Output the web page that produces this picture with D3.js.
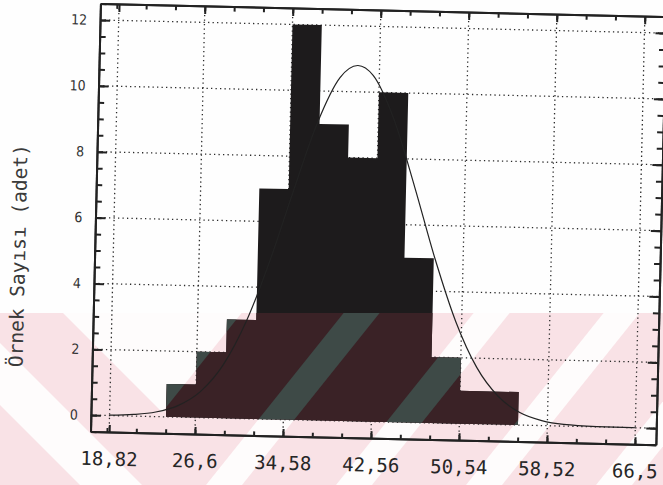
<!DOCTYPE html>
<html>
<head>
<meta charset="utf-8">
<script src="https://cdn.jsdelivr.net/npm/d3@7"></script>
<style>
body { margin: 0; background: #fff; }
svg { display: block; }
</style>
</head>
<body>
<script>
const w = 663
const h = 485

// histogram classes (lower edge) and sample counts
const binStart = [23.94, 26.6, 29.26, 31.92, 34.58, 37.24, 39.9, 42.56, 45.22, 47.88, 50.54, 53.2]
const counts = [1, 2, 3, 7, 12, 9, 8, 10, 5, 2, 1, 1]
const binWidth = 2.66

// normal curve drawn over the histogram
const curveX = [18.82, 21, 23, 25, 27, 29, 31, 33, 35, 37, 39, 40.6, 42, 44, 46, 48, 50, 52, 54, 56, 58, 60, 63, 66.5]
const curveY = [0.01, 0.05, 0.14, 0.35, 0.79, 1.61, 2.94, 4.78, 6.93, 8.99, 10.42, 10.8, 10.51, 9.17, 7.15, 4.98, 3.1, 1.72, 0.86, 0.38, 0.15, 0.05, 0.01, 0]

const xTicks = [18.82, 26.6, 34.58, 42.56, 50.54, 58.52, 66.5]
const xTickLabels = ['18,82', '26,6', '34,58', '42,56', '50,54', '58,52', '66,5']
const yTicks = [0, 2, 4, 6, 8, 10, 12]
const yTitle = 'Örnek Sayısı (adet)'

// the scanned page is a little tilted
const tilt = 'rotate(1.33,378,220)'

const x = d3.scaleLinear().domain([17.13, 68.4]).range([95.5, 661])
const y = d3.scaleLinear().domain([-0.5, 12.5]).range([438.2, 10])

const svg = d3.select('body').append('svg')
    .attr('width', w)
    .attr('height', h)

svg.append('rect').attr('width', w).attr('height', h).attr('fill', '#fefefe')

// pink watermark band at the bottom of the page
const wmTop = 313
const stripe = function (c, hw) {
    return [[c - hw - 0.8 * wmTop, wmTop], [c + hw - 0.8 * wmTop, wmTop], [c + hw - 0.8 * h, h], [c - hw - 0.8 * h, h]]
}
const lightShapes = [
    [[0, 343], [142, 485], [80, 485], [0, 405]],
    [[63, wmTop], [241.6, wmTop], [162.2, 412.2]],
    stripe(612, 18), stripe(742, 18), stripe(872, 18), stripe(1002, 18)
]

const wm = svg.append('g')
wm.append('rect').attr('x', 0).attr('y', wmTop).attr('width', w).attr('height', h - wmTop).attr('fill', '#f9e2e6')
wm.selectAll('polygon').data(lightShapes).enter().append('polygon')
    .attr('points', function (d) { return d.join(' ') })
    .attr('fill', '#fefcfc')

// histogram outline as one stepped shape
const last = binStart.length - 1
const steps = binStart.map(function (b, i) { return [b, counts[i]] })
    .concat([[binStart[last] + binWidth, counts[last]]])

const area = d3.area()
    .x(function (d) { return x(d[0]) })
    .y0(y(0))
    .y1(function (d) { return y(d[1]) })
    .curve(d3.curveStepAfter)

const chart = svg.append('g').attr('transform', tilt)

// dotted grid
chart.selectAll('line.vgrid').data(xTicks).enter().append('line')
    .attr('class', 'vgrid')
    .attr('x1', function (d) { return x(d) }).attr('x2', function (d) { return x(d) })
    .attr('y1', y.range()[1]).attr('y2', y.range()[0])
chart.selectAll('line.hgrid').data(yTicks).enter().append('line')
    .attr('class', 'hgrid')
    .attr('x1', x.range()[0]).attr('x2', x.range()[1])
    .attr('y1', function (d) { return y(d) }).attr('y2', function (d) { return y(d) })
chart.selectAll('line.vgrid, line.hgrid')
    .attr('stroke', '#2a2a2a')
    .attr('stroke-width', 1.3)
    .attr('stroke-dasharray', '1.3,3.2')

// bars
chart.append('path')
    .datum(steps)
    .attr('d', area)
    .attr('fill', '#1d1b1c')

// watermark seen through the bars
const clip = svg.append('defs').append('clipPath').attr('id', 'barClip')
clip.append('path')
    .datum(steps)
    .attr('d', area)
    .attr('transform', tilt)

const over = svg.append('g').attr('clip-path', 'url(#barClip)')
over.append('rect').attr('x', 0).attr('y', wmTop).attr('width', w).attr('height', h - wmTop).attr('fill', '#3a2226')
over.selectAll('polygon').data(lightShapes).enter().append('polygon')
    .attr('points', function (d) { return d.join(' ') })
    .attr('fill', '#3e4a47')

const front = svg.append('g').attr('transform', tilt)

// frame and ticks
const minorY = d3.range(-0.5, 12.51, 0.5)
const minorX = d3.range(26.6 - 3 * binWidth, 68.4, binWidth)

const yAxisL = front.append('g').attr('transform', 'translate(' + x.range()[0] + ',0)')
yAxisL.append('g').call(d3.axisLeft(y).tickValues(minorY).tickSize(-6).tickSizeOuter(0).tickFormat(''))
yAxisL.append('g').call(d3.axisLeft(y).tickValues(yTicks).tickSize(-10).tickSizeOuter(0).tickPadding(13))
yAxisL.selectAll('text')
    .style('font-family', '"Liberation Sans Narrow", "DejaVu Sans Condensed", sans-serif')
    .style('font-size', '14px')
    .attr('fill', '#333')

const yAxisR = front.append('g').attr('transform', 'translate(' + x.range()[1] + ',0)')
yAxisR.append('g').call(d3.axisRight(y).tickValues(minorY).tickSize(-6).tickSizeOuter(0).tickFormat(''))
yAxisR.append('g').call(d3.axisRight(y).tickValues(yTicks).tickSize(-10).tickSizeOuter(0).tickFormat(''))

const xAxisB = front.append('g').attr('transform', 'translate(0,' + y.range()[0] + ')')
xAxisB.append('g').call(d3.axisBottom(x).tickValues(minorX).tickSize(-4).tickSizeOuter(0).tickFormat(''))
xAxisB.append('g').call(d3.axisBottom(x).tickValues(xTicks).tickSize(-7).tickSizeOuter(0).tickPadding(20)
    .tickFormat(function (d, i) { return xTickLabels[i] }))
xAxisB.selectAll('text')
    .style('font-family', '"DejaVu Sans Mono", monospace')
    .style('font-size', '19px')
    .attr('fill', '#262626')

const xAxisT = front.append('g').attr('transform', 'translate(0,' + y.range()[1] + ')')
xAxisT.append('g').call(d3.axisTop(x).tickValues(minorX).tickSize(-5).tickSizeOuter(0).tickFormat(''))
xAxisT.append('g').call(d3.axisTop(x).tickValues(xTicks).tickSize(-8).tickSizeOuter(0).tickFormat(''))

front.selectAll('.tick line').attr('stroke', '#222').attr('stroke-width', 2)
front.selectAll('.domain').attr('stroke', '#222').attr('stroke-width', 2)

// fitted curve
const line = d3.line()
    .x(function (d) { return x(d[0]) })
    .y(function (d) { return y(d[1]) })
    .curve(d3.curveMonotoneX)

front.append('path')
    .datum(d3.zip(curveX, curveY))
    .attr('d', line)
    .attr('fill', 'none')
    .attr('stroke', '#222')
    .attr('stroke-width', 1.2)

front.append('text')
    .attr('transform', 'translate(26,264) rotate(-90)')
    .attr('text-anchor', 'middle')
    .style('font-family', '"DejaVu Sans Mono", monospace')
    .style('font-size', '19.5px')
    .attr('fill', '#3a3a3a')
    .text(yTitle)
</script>
</body>
</html>
